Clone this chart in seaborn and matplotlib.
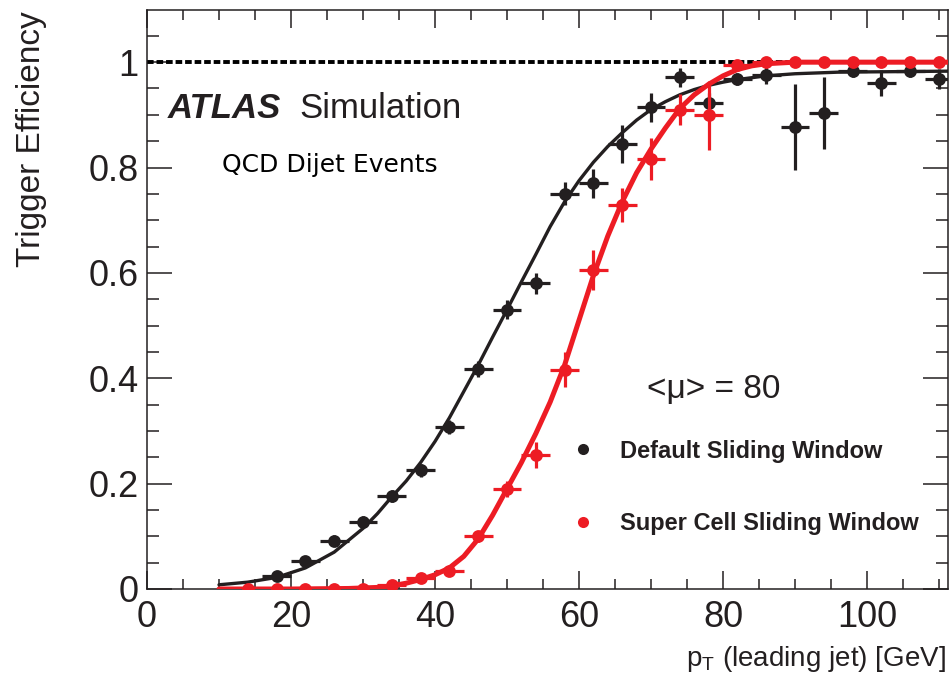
import matplotlib
matplotlib.use('Agg')
import matplotlib.pyplot as plt
from matplotlib.ticker import MultipleLocator, FixedLocator, FixedFormatter
import numpy as np
import pandas as pd
import seaborn as sns


########
# Data #
########
bin_half_width = 2

# Default Sliding Window (black)
default_pt = [18, 22, 26, 30, 34, 38, 42, 46, 50, 54, 58, 62,
              66, 70, 74, 78, 82, 86, 90, 94, 98, 102, 106, 110]
default_eff = [0.025, 0.053, 0.092, 0.128, 0.176, 0.225, 0.307, 0.417, 0.53, 0.58, 0.75, 0.77,
               0.845, 0.914, 0.971, 0.922, 0.968, 0.975, 0.877, 0.903, 0.983, 0.96, 0.983, 0.968]
default_err = [0.008, 0.009, 0.01, 0.01, 0.011, 0.012, 0.013, 0.015, 0.018, 0.02, 0.022, 0.027,
               0.036, 0.028, 0.018, 0.02, 0.012, 0.016, 0.082, 0.068, 0.012, 0.025, 0.012, 0.019]

# Super Cell Sliding Window (red)
supercell_pt = [14, 18, 22, 26, 30, 34, 38, 42, 46, 50, 54, 58, 62,
                66, 70, 74, 78, 82, 86, 90, 94, 98, 102, 106, 110]
supercell_eff = [0.0, 0.0, 0.0, 0.0, 0.0, 0.008, 0.02, 0.034, 0.1, 0.19, 0.254, 0.416, 0.605,
                 0.729, 0.816, 0.91, 0.899, 0.994, 1.0, 1.0, 1.0, 1.0, 1.0, 1.0, 1.0]
supercell_err = [0.003, 0.003, 0.003, 0.003, 0.003, 0.005, 0.006, 0.008, 0.01, 0.015, 0.025, 0.033, 0.038,
                 0.032, 0.04, 0.03, 0.065, 0.008, 0.003, 0.003, 0.003, 0.003, 0.003, 0.003, 0.003]

# Fitted turn-on curves
default_fit_pt = [10, 14, 18, 22, 26, 30, 32, 34, 36, 38, 40, 42, 44, 46, 48, 50, 52, 54, 56, 58,
                  60, 62, 64, 66, 68, 70, 72, 74, 76, 78, 80, 82, 86, 90, 96, 104, 112]
default_fit_eff = [0.008, 0.013, 0.022, 0.04, 0.07, 0.115, 0.143, 0.175, 0.205, 0.24, 0.28, 0.325,
                   0.375, 0.425, 0.478, 0.53, 0.583, 0.635, 0.688, 0.735, 0.775, 0.81, 0.84, 0.866,
                   0.89, 0.91, 0.925, 0.938, 0.948, 0.956, 0.962, 0.967, 0.974, 0.978, 0.981, 0.982, 0.983]

supercell_fit_pt = [10, 20, 28, 32, 34, 36, 38, 40, 42, 44, 46, 48, 50, 52, 54, 56, 58, 60, 62, 64,
                    66, 68, 70, 72, 74, 76, 78, 80, 82, 84, 86, 90, 112]
supercell_fit_eff = [0.0, 0.0, 0.001, 0.003, 0.006, 0.011, 0.018, 0.027, 0.04, 0.062, 0.095, 0.14,
                     0.19, 0.24, 0.295, 0.355, 0.425, 0.51, 0.595, 0.67, 0.735, 0.79, 0.835, 0.875,
                     0.912, 0.938, 0.958, 0.974, 0.986, 0.993, 0.997, 1.0, 1.0]

labels = ['Default Sliding Window', 'Super Cell Sliding Window']
colors = {'Default Sliding Window': '#231f20', 'Super Cell Sliding Window': '#ed1c24'}
ink = '#231f20'


############
# Organize #
############
points = pd.concat([
    pd.DataFrame({'pt': default_pt, 'eff': default_eff, 'err': default_err, 'trigger': labels[0]}),
    pd.DataFrame({'pt': supercell_pt, 'eff': supercell_eff, 'err': supercell_err, 'trigger': labels[1]}),
])
fits = pd.concat([
    pd.DataFrame({'pt': default_fit_pt, 'eff': default_fit_eff, 'trigger': labels[0]}),
    pd.DataFrame({'pt': supercell_fit_pt, 'eff': supercell_fit_eff, 'trigger': labels[1]}),
])


########
# Plot #
########
sns.set_theme(style='ticks')
plt.rcParams['font.family'] = ['Liberation Sans', 'DejaVu Sans']
plt.rcParams['mathtext.fontset'] = 'custom'
plt.rcParams['mathtext.rm'] = 'Liberation Sans'
plt.rcParams['text.color'] = ink
plt.rcParams['axes.labelcolor'] = ink

fig = plt.figure(figsize=(9.5, 6.96), dpi=100)
ax = fig.add_axes([147 / 950, 107 / 696, 801 / 950, 579 / 696])

# reference line at full efficiency
ax.axhline(1.0, color='black', lw=2.8, ls=(0, (1.7, 0.75)), zorder=1)

line_widths = {labels[0]: 2.4, labels[1]: 3.6}
for i, trig in enumerate(labels):
    sub_fit = fits[fits['trigger'] == trig]
    sub_pts = points[points['trigger'] == trig]
    sns.lineplot(data=sub_fit, x='pt', y='eff', color=colors[trig], lw=line_widths[trig],
                 ax=ax, legend=False, zorder=2 + 3 * i, sort=True)
    ax.errorbar(sub_pts['pt'], sub_pts['eff'], xerr=bin_half_width, yerr=sub_pts['err'],
                fmt='none', ecolor=colors[trig], elinewidth=2.3, capsize=0, zorder=3 + 3 * i)
    sns.scatterplot(data=sub_pts, x='pt', y='eff', color=colors[trig], s=85, linewidth=0,
                    ax=ax, legend=False, zorder=4 + 3 * i)

# legend
handles = [plt.Line2D([], [], ls='none', marker='o', ms=8, mew=0, color=colors[t]) for t in labels]
leg = ax.legend(handles, labels, loc='upper left', bbox_to_anchor=(0.529, 0.258),
                frameon=False, handlelength=1.0, handletextpad=1.1, labelspacing=2.1,
                borderpad=0, borderaxespad=0,
                prop={'family': 'Liberation Sans', 'weight': 'bold', 'size': 17})

# annotations
ax.text(2.9, 0.894, 'ATLAS', fontsize=25, fontweight='bold', fontstyle='italic', va='baseline')
ax.text(21.2, 0.894, 'Simulation', fontsize=25, va='baseline')
ax.text(10.4, 0.791, 'QCD Dijet Events', fontsize=18, family='DejaVu Sans', color='black',
        va='baseline')
ax.text(69.4, 0.362, '<\u03bc> = 80', fontsize=24, va='baseline')

# axes
ax.set_xlim(0, 111.25)
ax.set_ylim(0, 1.099)
ax.xaxis.set_major_locator(MultipleLocator(20))
ax.xaxis.set_minor_locator(MultipleLocator(5))
ax.yaxis.set_major_locator(FixedLocator([0, 0.2, 0.4, 0.6, 0.8, 1.0]))
ax.yaxis.set_major_formatter(FixedFormatter(['0', '0.2', '0.4', '0.6', '0.8', '1']))
ax.yaxis.set_minor_locator(MultipleLocator(0.05))

ax.tick_params(which='both', direction='in', top=True, right=True, colors=ink, width=1.1,
               labelsize=26, labelcolor=ink)
ax.tick_params(axis='x', which='major', length=13, pad=8)
ax.tick_params(axis='x', which='minor', length=7)
ax.tick_params(axis='y', which='major', length=18, pad=6)
ax.tick_params(axis='y', which='minor', length=8.5)
for spine in ax.spines.values():
    spine.set_color(ink)
    spine.set_linewidth(1.1)

ax.set_xlabel(r'p$_\mathregular{T}$ (leading jet) [GeV]', fontsize=20, loc='right')
ax.set_ylabel('Trigger Efficiency', fontsize=24, loc='top')
ax.xaxis.set_label_coords(0.997, -0.095)
ax.yaxis.set_label_coords(-0.125, 0.997)

fig.savefig('out.png', dpi=100)
